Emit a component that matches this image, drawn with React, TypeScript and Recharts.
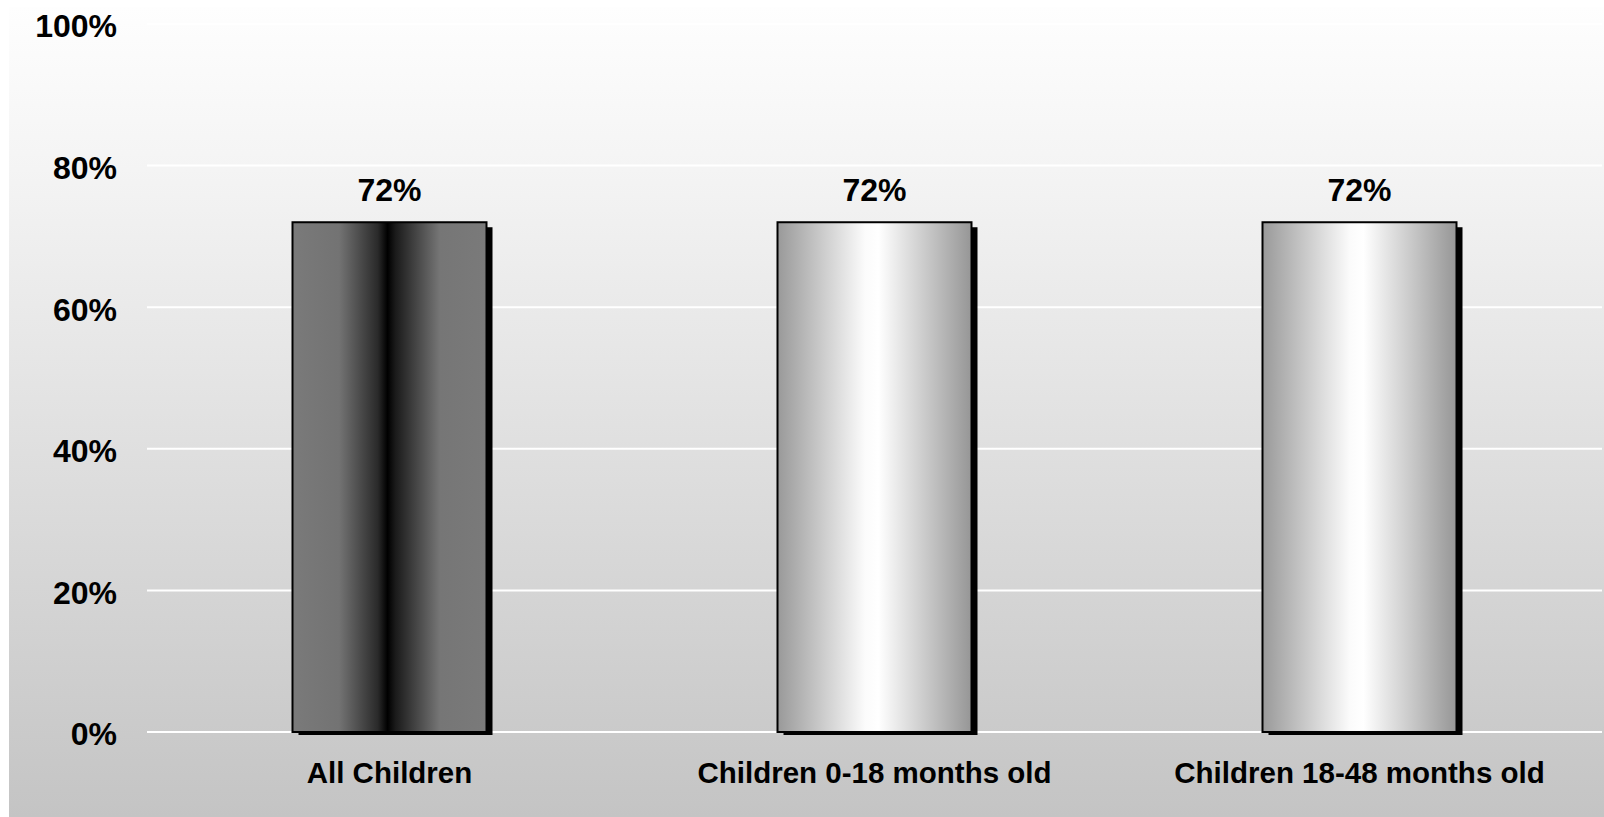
import * as React from "react"
import { BarChart, Bar, XAxis, YAxis, CartesianGrid, Cell, LabelList } from "recharts"

const categories = ["All Children", "Children 0-18 months old", "Children 18-48 months old"]
const shares = [0.72, 0.72, 0.72]
const barFills = ["url(#darkBar)", "url(#lightBar)", "url(#lightBar)"]
const yTicks = [0, 0.2, 0.4, 0.6, 0.8, 1]

const data = categories.map((name, i) => ({ name, value: shares[i] }))

const pct = (v: number) => `${Math.round(v * 100)}%`

const font = "'Liberation Sans', Arial, sans-serif"

function ShadowBar(props: any) {
  const { x, y, width, height, fill } = props
  return (
    <g>
      <rect x={x + 6} y={y + 5} width={width} height={height - 2} fill="#000" />
      <rect x={x} y={y} width={width} height={height} fill={fill} stroke="#000" strokeWidth={2} />
    </g>
  )
}

export default function App() {
  return (
    <div style={{ position: "absolute", left: 0, top: 0, width: 1604, height: 817, background: "#fff" }}>
      <div
        style={{
          position: "absolute",
          left: 9,
          top: 7,
          width: 1595,
          height: 810,
          background: "linear-gradient(to bottom, #fefefe 0%, #f4f4f4 20%, #e2e2e2 50%, #c4c4c4 100%)",
        }}
      />
      <div style={{ position: "absolute", left: 0, top: 0 }}>
        <BarChart
          width={1604}
          height={817}
          data={data}
          margin={{ top: 24, right: 2, left: 0, bottom: 0 }}
          barCategoryGap="30%"
        >
          <defs>
            <linearGradient id="darkBar" x1="0" y1="0" x2="1" y2="0">
              <stop offset="0%" stopColor="#7a7a7a" />
              <stop offset="24%" stopColor="#737373" />
              <stop offset="44%" stopColor="#2a2a2a" />
              <stop offset="49%" stopColor="#000000" />
              <stop offset="53%" stopColor="#1a1a1a" />
              <stop offset="76%" stopColor="#767676" />
              <stop offset="100%" stopColor="#7a7a7a" />
            </linearGradient>
            <linearGradient id="lightBar" x1="0" y1="0" x2="1" y2="0">
              <stop offset="0%" stopColor="#999999" />
              <stop offset="45%" stopColor="#fbfbfb" />
              <stop offset="52%" stopColor="#ffffff" />
              <stop offset="100%" stopColor="#969696" />
            </linearGradient>
          </defs>
          <CartesianGrid vertical={false} stroke="#ffffff" strokeWidth={2} />
          <XAxis
            dataKey="name"
            height={85}
            axisLine={false}
            tickLine={false}
            tickSize={0}
            tickMargin={30}
            interval={0}
            tick={{ fill: "#000", fontSize: 29.5, fontWeight: 700, fontFamily: font }}
          />
          <YAxis
            width={147}
            domain={[0, 1]}
            ticks={yTicks}
            tickFormatter={pct}
            axisLine={false}
            tickLine={false}
            tickSize={0}
            tickMargin={30}
            tick={{ fill: "#000", fontSize: 32, fontWeight: 700, fontFamily: font, dy: 2 }}
          />
          <Bar dataKey="value" shape={<ShadowBar />} isAnimationActive={false}>
            {data.map((d, i) => (
              <Cell key={d.name} fill={barFills[i]} />
            ))}
            <LabelList
              dataKey="value"
              position="top"
              offset={21}
              formatter={(v: any) => pct(Number(v))}
              style={{ fill: "#000", fontSize: 32, fontWeight: 700, fontFamily: font }}
            />
          </Bar>
        </BarChart>
      </div>
    </div>
  )
}
